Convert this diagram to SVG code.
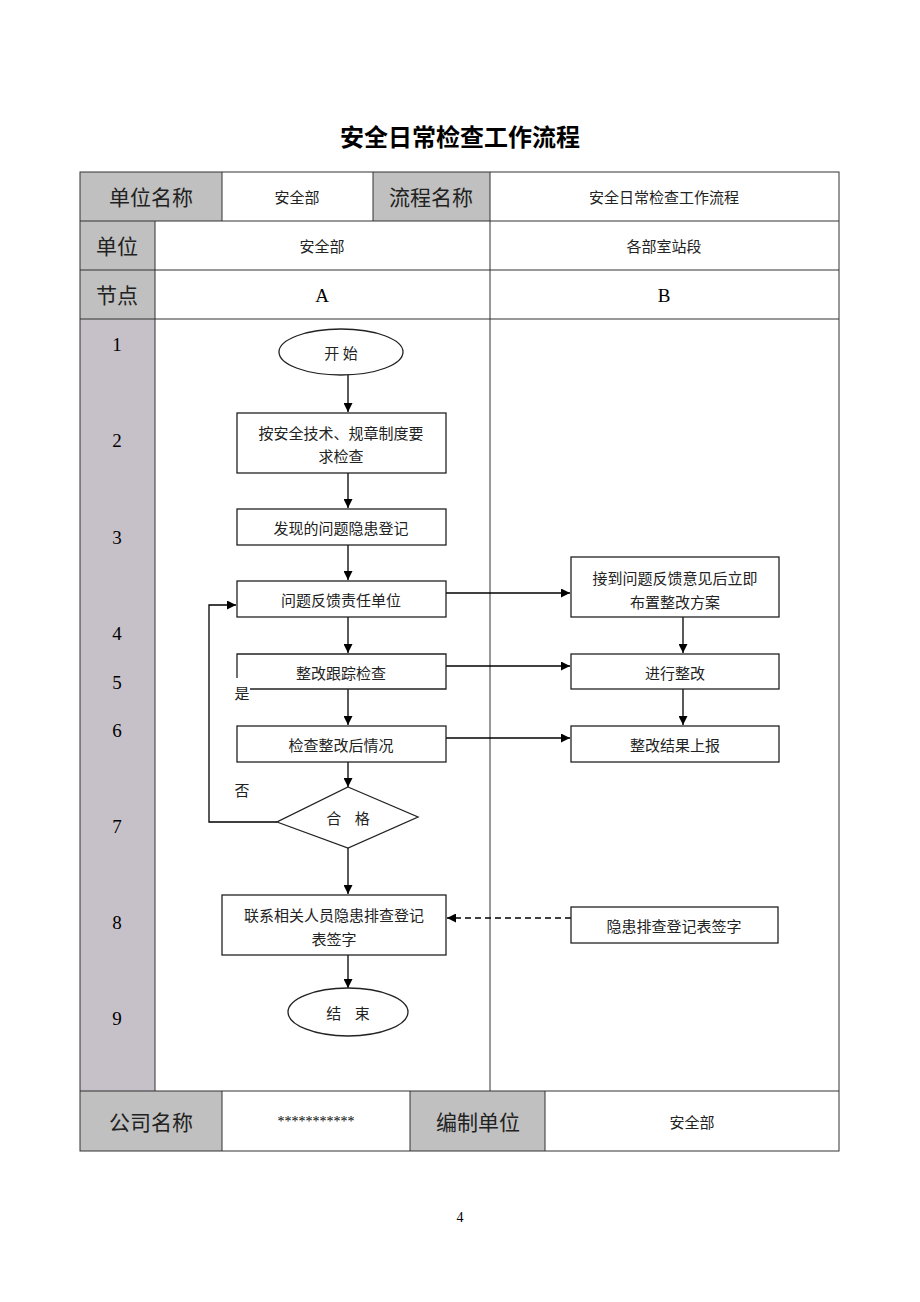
<svg xmlns="http://www.w3.org/2000/svg" width="920" height="1302" viewBox="0 0 920 1302">
<defs>
<marker id="ah" viewBox="0 0 10 10" refX="10" refY="5" markerWidth="9" markerHeight="9" markerUnits="userSpaceOnUse" orient="auto"><path d="M0,0 L10,5 L0,10 z" fill="#000"/></marker>
<style>
.cn{font-family:"Noto Sans CJK SC","Noto Sans",sans-serif;fill:#222;text-anchor:middle;dominant-baseline:central}
.t15{font-size:15px}
.t21{font-size:21px}
.num{font-family:"Liberation Serif",serif;font-size:19px;fill:#000;text-anchor:middle;dominant-baseline:central}
.g1{fill:#c0c0c0}
.g2{fill:#c6c1c8}
.grid{stroke:#333;stroke-width:1;fill:none}
.box{fill:#fff;stroke:#222;stroke-width:1.3}
.ln{stroke:#000;stroke-width:1.3;fill:none}
.arr{stroke:#000;stroke-width:1.3;fill:none;marker-end:url(#ah)}
</style>
</defs>
<rect width="920" height="1302" fill="#fff"/>
<text x="460" y="135" class="cn" style="font-size:24px;font-weight:bold;fill:#000">安全日常检查工作流程</text>

<g id="table">
<rect x="80" y="172" width="142" height="49" class="g1"/>
<rect x="373" y="172" width="117" height="49" class="g1"/>
<rect x="80" y="221" width="75" height="98" class="g1"/>
<rect x="80" y="319" width="75" height="772" class="g2"/>
<rect x="80" y="1091" width="142" height="60" class="g1"/>
<rect x="410" y="1091" width="135" height="60" class="g1"/>
<rect x="80" y="172" width="759" height="979" class="grid"/>
<path class="grid" d="M80 221H839M80 270H839M80 319H839M80 1091H839M222 172V221M373 172V221M490 172V221M155 221V1091M490 221V1091M222 1091V1151M410 1091V1151M545 1091V1151"/>
<text x="151" y="196" class="cn t21">单位名称</text>
<text x="297" y="196" class="cn t15">安全部</text>
<text x="431" y="196" class="cn t21">流程名称</text>
<text x="664" y="196" class="cn t15">安全日常检查工作流程</text>
<text x="117" y="245" class="cn t21">单位</text>
<text x="322" y="245" class="cn t15">安全部</text>
<text x="664" y="245" class="cn t15">各部室站段</text>
<text x="117" y="294" class="cn t21">节点</text>
<text x="322" y="295" class="num">A</text>
<text x="664" y="295" class="num">B</text>
<text x="117" y="344" class="num">1</text>
<text x="117" y="440" class="num">2</text>
<text x="117" y="537" class="num">3</text>
<text x="117" y="633" class="num">4</text>
<text x="117" y="682" class="num">5</text>
<text x="117" y="730" class="num">6</text>
<text x="117" y="826" class="num">7</text>
<text x="117" y="922" class="num">8</text>
<text x="117" y="1018" class="num">9</text>
<text x="151" y="1121" class="cn t21">公司名称</text>
<text x="316" y="1121" class="num" style="font-size:14px">***********</text>
<text x="478" y="1121" class="cn t21">编制单位</text>
<text x="692" y="1121" class="cn t15">安全部</text>
</g>

<g id="connectors">
<line x1="348" y1="375" x2="348" y2="412" class="arr"/>
<line x1="348" y1="473" x2="348" y2="508" class="arr"/>
<line x1="348" y1="545" x2="348" y2="580" class="arr"/>
<line x1="348" y1="617" x2="348" y2="653" class="arr"/>
<line x1="348" y1="689" x2="348" y2="725" class="arr"/>
<line x1="348" y1="762" x2="348" y2="787" class="arr"/>
<line x1="348" y1="848" x2="348" y2="894" class="arr"/>
<line x1="348" y1="955" x2="348" y2="988" class="arr"/>
<path d="M277 822H209V605H236" class="arr"/>
<line x1="446" y1="593" x2="570" y2="593" class="arr"/>
<line x1="446" y1="666" x2="570" y2="666" class="arr"/>
<line x1="446" y1="738" x2="570" y2="738" class="arr"/>
<line x1="683" y1="617" x2="683" y2="653" class="arr"/>
<line x1="683" y1="689" x2="683" y2="725" class="arr"/>
<line x1="571" y1="918" x2="447" y2="918" class="arr" stroke-dasharray="6,4"/>
</g>

<g id="start"><ellipse cx="341" cy="352" rx="62" ry="23" class="box"/><text x="341" y="352" class="cn t15" xml:space="preserve">开 始</text></g>
<g id="n2"><rect x="237" y="413" width="209" height="60" class="box"/><text x="341" y="432" class="cn t15">按安全技术、规章制度要</text><text x="341" y="455" class="cn t15">求检查</text></g>
<g id="n3"><rect x="237" y="509" width="209" height="36" class="box"/><text x="341" y="527" class="cn t15">发现的问题隐患登记</text></g>
<g id="n4"><rect x="237" y="581" width="209" height="36" class="box"/><text x="341" y="599" class="cn t15">问题反馈责任单位</text></g>
<g id="n5"><path d="M237 678V654H446V689H250" class="box"/><text x="341" y="672" class="cn t15">整改跟踪检查</text><text x="242" y="692" class="cn t15">是</text></g>
<g id="n6"><rect x="237" y="726" width="209" height="36" class="box"/><text x="341" y="744" class="cn t15">检查整改后情况</text></g>
<g id="lbl-no"><text x="242" y="789" class="cn t15">否</text></g>
<g id="n7"><path d="M348 787L418 817L348 848L277 822Z" class="box"/><text x="348" y="817" class="cn t15" xml:space="preserve">合    格</text></g>
<g id="n8"><rect x="222" y="895" width="224" height="60" class="box"/><text x="334" y="914" class="cn t15">联系相关人员隐患排查登记</text><text x="334" y="938" class="cn t15">表签字</text></g>
<g id="end"><ellipse cx="348" cy="1012" rx="60" ry="24" class="box"/><text x="348" y="1012" class="cn t15" xml:space="preserve">结    束</text></g>
<g id="r1"><rect x="571" y="557" width="208" height="60" class="box"/><text x="675" y="577" class="cn t15">接到问题反馈意见后立即</text><text x="675" y="601" class="cn t15">布置整改方案</text></g>
<g id="r2"><rect x="571" y="654" width="208" height="35" class="box"/><text x="675" y="672" class="cn t15">进行整改</text></g>
<g id="r3"><rect x="571" y="726" width="208" height="36" class="box"/><text x="675" y="744" class="cn t15">整改结果上报</text></g>
<g id="r4"><rect x="571" y="907" width="207" height="36" class="box"/><text x="674" y="925" class="cn t15">隐患排查登记表签字</text></g>

<text x="460" y="1217" class="num" style="font-size:14px">4</text>
</svg>
